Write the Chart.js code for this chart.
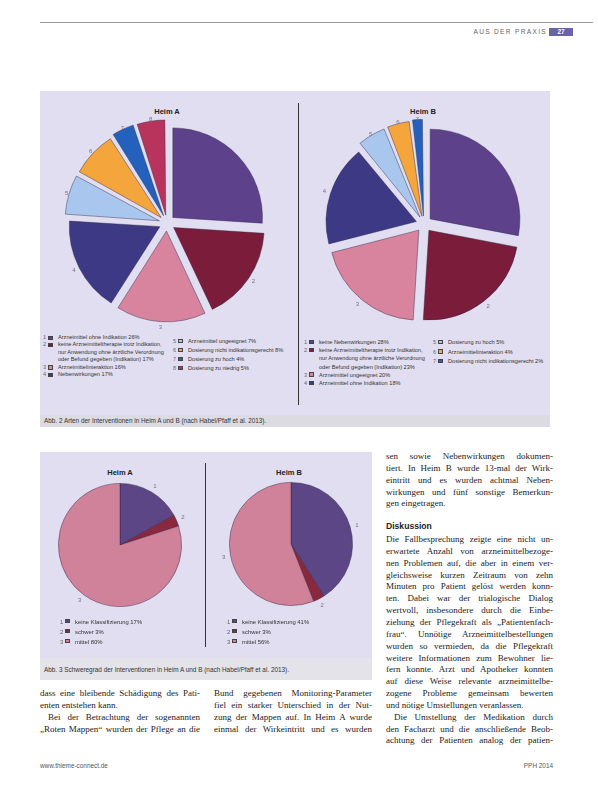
<!DOCTYPE html>
<html lang="de">
<head>
<meta charset="utf-8">
<script src="https://cdn.jsdelivr.net/npm/chart.js@4.4.1/dist/chart.umd.min.js"></script>
<style>
  body { margin: 0; background: #fff; }
  #page { position: relative; width: 598px; height: 789px; overflow: hidden; background: #fff; color: #2a2a2a; }
  .abs { position: absolute; }
  .box { position: absolute; background: #e0def0; }
  .cap { position: absolute; background: #dcdbe2; font: 6.4px/12px "Liberation Sans", sans-serif; color: #333; padding-left: 4px; box-sizing: border-box; white-space: nowrap; }
  .title { position: absolute; width: 80px; margin-left: -40px; text-align: center; font: bold 7.5px "Liberation Sans", sans-serif; color: #222; }
  .vline { position: absolute; width: 1px; background: #333; }
  canvas { position: absolute; }
  .leg { position: absolute; font: 5.6px "Liberation Sans", sans-serif; color: #333; }
  .row { position: relative; padding-left: 15px; }
  .row .n { position: absolute; left: 0; top: 0; color: #666; }
  .row .sw { position: absolute; left: 5px; width: 5px; height: 4.5px; border: 0.6px solid #444; box-sizing: border-box; }
  .ln { position: absolute; font: 9px/12px "Liberation Serif", serif; color: #222; text-align: justify; text-align-last: justify; white-space: nowrap; }
  .ln.end { text-align-last: left; }
  .head { position: absolute; font: bold 8.6px/12px "Liberation Sans", sans-serif; color: #222; }
</style>
</head>
<body>
<div id="page">
  <!-- Kopfzeile -->
  <div class="abs" style="left:40px; top:22px; width:553px; height:1px; background:#9a9a9a;"></div>
  <div class="abs" style="left:440px; top:28px; width:107px; text-align:right; font:6.6px/8px 'Liberation Sans', sans-serif; letter-spacing:1.3px; color:#666;">AUS DER PRAXIS</div>
  <div class="abs" style="left:549px; top:28px; width:24px; height:8px; background:#6a63a6; color:#fff; font:bold 6.5px/8px 'Liberation Sans', sans-serif; text-align:center;">27</div>

  <!-- Abb. 2 -->
  <div class="box" style="left:40px; top:91px; width:510px; height:324px;"></div>
  <div class="cap" style="left:40px; top:415px; width:510px; height:12px;">Abb. 2 Arten der Interventionen in Heim A und B (nach Habel/Pfaff et al. 2013).</div>
  <div class="vline" style="left:298px; top:103px; height:302px;"></div>
  <div class="title" style="left:167px; top:107px;">Heim A</div>
  <div class="title" style="left:423px; top:107px;">Heim B</div>
  <canvas id="pieA" width="220" height="220" style="left:57px; top:113px;"></canvas>
  <canvas id="pieB" width="220" height="220" style="left:314px; top:114px;"></canvas>
  <div id="legA1" class="leg" style="left:43px; top:334px; width:125px; line-height:7.4px;"></div>
  <div id="legA2" class="leg" style="left:173px; top:337px; width:120px; line-height:9px;"></div>
  <div id="legB1" class="leg" style="left:304px; top:338px; width:125px; line-height:8.2px;"></div>
  <div id="legB2" class="leg" style="left:433px; top:338px; width:115px; line-height:9.5px;"></div>

  <!-- Abb. 3 -->
  <div class="box" style="left:40px; top:452px; width:332px; height:206px;"></div>
  <div class="cap" style="left:40px; top:658px; width:332px; height:22px; line-height:24px; background:#e4e3ea;">Abb. 3 Schweregrad der Interventionen in Heim A und B (nach Habel/Pfaff et al. 2013).</div>
  <div class="vline" style="left:205px; top:463px; height:184px;"></div>
  <div class="title" style="left:120px; top:468px;">Heim A</div>
  <div class="title" style="left:289px; top:468px;">Heim B</div>
  <canvas id="sevA" width="160" height="160" style="left:40px; top:465px;"></canvas>
  <canvas id="sevB" width="160" height="160" style="left:211px; top:464px;"></canvas>
  <div id="legSA" class="leg" style="left:60px; top:617px; width:140px; line-height:10px; font-size:5.9px;"></div>
  <div id="legSB" class="leg" style="left:227px; top:617px; width:140px; line-height:10px; font-size:5.9px;"></div>

  <div id="text"></div>

  <!-- Fusszeile -->
  <div class="abs" style="left:40px; top:762px; font:6.4px/8px 'Liberation Sans', sans-serif; color:#555;">www.thieme-connect.de</div>
  <div class="abs" style="left:500px; top:762px; width:53px; text-align:right; font:6.4px/8px 'Liberation Sans', sans-serif; color:#555;">PPH 2014</div>
</div>

<script>
// Abb. 2: Arten der Interventionen (Anteile in %)
const heimALabels = [
  'Arzneimittel ohne Indikation',
  'keine Arzneimitteltherapie trotz Indikation, nur Anwendung ohne ärztliche Verordnung oder Befund gegeben (Indikation)',
  'Arzneimittelinteraktion',
  'Nebenwirkungen',
  'Arzneimittel ungeeignet',
  'Dosierung nicht indikationsgerecht',
  'Dosierung zu hoch',
  'Dosierung zu niedrig'
];
const heimAValues = [26, 17, 16, 17, 7, 8, 4, 5];

const heimBLabels = [
  'keine Nebenwirkungen',
  'keine Arzneimitteltherapie trotz Indikation, nur Anwendung ohne ärztliche Verordnung oder Befund gegeben (Indikation)',
  'Arzneimittel ungeeignet',
  'Arzneimittel ohne Indikation',
  'Dosierung zu hoch',
  'Arzneimittelinteraktion',
  'Dosierung nicht indikationsgerecht'
];
const heimBValues = [28, 23, 20, 18, 5, 4, 2];

const typeColors = ['#5e418b', '#7b1c3a', '#d8849f', '#3d3984', '#a9c7ee', '#f4a53b', '#2461bd', '#b9345d'];

// Abb. 3: Schweregrad der Interventionen (in %)
const severityLabels = ['keine Klassifizierung', 'schwer', 'mittel'];
const severityA = [17, 3, 80];
const severityB = [41, 3, 56];
const severityColors = ['#5d4685', '#8a283d', '#cf8299'];

// Nummern neben den Segmenten (Chart.js verschiebt ein Segment um offset/4)
const sliceNumbers = {
  id: 'sliceNumbers',
  afterDatasetsDraw(chart, args, opts) {
    const ctx = chart.ctx;
    const meta = chart.getDatasetMeta(0);
    const shift = (chart.data.datasets[0].offset || 0) / 4;
    ctx.save();
    ctx.font = '6px "Liberation Sans", sans-serif';
    ctx.fillStyle = '#747482';
    ctx.textAlign = 'center';
    ctx.textBaseline = 'middle';
    meta.data.forEach((arc, i) => {
      if (i < opts.first) return;
      const p = arc.getProps(['x', 'y', 'startAngle', 'endAngle', 'outerRadius']);
      const mid = (p.startAngle + p.endAngle) / 2;
      const r = p.outerRadius + shift + opts.gap;
      ctx.fillText(String(i + 1), p.x + Math.cos(mid) * r, p.y + Math.sin(mid) * r);
    });
    ctx.restore();
  }
};

function makePie(id, labels, values, colors, offset, padding, first) {
  new Chart(document.getElementById(id), {
    type: 'pie',
    data: {
      labels: labels,
      datasets: [{
        data: values,
        backgroundColor: colors.slice(0, values.length),
        borderColor: 'rgba(45,35,70,0.55)',
        borderWidth: 0.8,
        offset: offset
      }]
    },
    options: {
      responsive: false,
      animation: false,
      layout: { padding: padding },
      plugins: {
        legend: { display: false },
        tooltip: { enabled: false },
        sliceNumbers: { gap: 7, first: first }
      }
    },
    plugins: [sliceNumbers]
  });
}

// in Abb. 2 ist Segment 1 nicht beschriftet
makePie('pieA', heimALabels, heimAValues, typeColors, 32, 4, 1);
makePie('pieB', heimBLabels, heimBValues, typeColors, 32, 4, 1);
makePie('sevA', severityLabels, severityA, severityColors, 0, 18, 0);
makePie('sevB', severityLabels, severityB, severityColors, 0, 18, 0);

function buildLegend(id, labels, values, colors, from, to) {
  const el = document.getElementById(id);
  for (let i = from; i < to; i++) {
    const row = document.createElement('div');
    row.className = 'row';
    row.innerHTML = '<span class="n">' + (i + 1) + '</span>' +
      '<span class="sw" style="top:1.5px; background:' + colors[i] + '"></span>' +
      labels[i] + ' ' + values[i] + '%';
    el.appendChild(row);
  }
}

buildLegend('legA1', heimALabels, heimAValues, typeColors, 0, 4);
buildLegend('legA2', heimALabels, heimAValues, typeColors, 4, 8);
buildLegend('legB1', heimBLabels, heimBValues, typeColors, 0, 4);
buildLegend('legB2', heimBLabels, heimBValues, typeColors, 4, 7);
buildLegend('legSA', severityLabels, severityA, severityColors, 0, 3);
buildLegend('legSB', severityLabels, severityB, severityColors, 0, 3);

// Fliesstext
const textCols = [
  { x: 40, w: 160, top: 693, lines: [
    'dass eine bleibende Schädigung des Pati-',
    '|enten entstehen kann.',
    '  Bei der Betrachtung der sogenannten',
    '„Roten Mappen“ wurden der Pflege an die'
  ] },
  { x: 214, w: 158, top: 693, lines: [
    'Bund gegebenen Monitoring-Parameter',
    'fiel ein starker Unterschied in der Nut-',
    'zung der Mappen auf. In Heim A wurde',
    'einmal der Wirkeintritt und es wurden'
  ] },
  { x: 386, w: 167, top: 456, lines: [
    'sen sowie Nebenwirkungen dokumen-',
    'tiert. In Heim B wurde 13-mal der Wirk-',
    'eintritt und es wurden achtmal Neben-',
    'wirkungen und fünf sonstige Bemerkun-',
    '|gen eingetragen.'
  ] },
  { x: 386, w: 167, top: 539, lines: [
    'Die Fallbesprechung zeigte eine nicht un-',
    'erwartete Anzahl von arzneimittelbezoge-',
    'nen Problemen auf, die aber in einem ver-',
    'gleichsweise kurzen Zeitraum von zehn',
    'Minuten pro Patient gelöst werden konn-',
    'ten. Dabei war der trialogische Dialog',
    'wertvoll, insbesondere durch die Einbe-',
    'ziehung der Pflegekraft als „Patientenfach-',
    'frau“. Unnötige Arzneimittelbestellungen',
    'wurden so vermieden, da die Pflegekraft',
    'weitere Informationen zum Bewohner lie-',
    'fern konnte. Arzt und Apotheker konnten',
    'auf diese Weise relevante arzneimittelbe-',
    'zogene Probleme gemeinsam bewerten',
    '|und nötige Umstellungen veranlassen.',
    '  Die Umstellung der Medikation durch',
    'den Facharzt und die anschließende Beob-',
    'achtung der Patienten analog der patien-'
  ] }
];

const textRoot = document.getElementById('text');
textCols.forEach(col => {
  col.lines.forEach((line, i) => {
    const d = document.createElement('div');
    let t = line;
    d.className = 'ln';
    if (t.startsWith('|')) { t = t.slice(1); d.className = 'ln end'; }
    let x = col.x, w = col.w;
    if (t.startsWith('  ')) { t = t.trim(); x += 8; w -= 8; }
    d.textContent = t;
    d.style.left = x + 'px';
    d.style.width = w + 'px';
    d.style.top = (col.top - 6 + i * 11.85) + 'px';
    textRoot.appendChild(d);
  });
});

const h = document.createElement('div');
h.className = 'head';
h.textContent = 'Diskussion';
h.style.left = '386px';
h.style.top = '520px';
textRoot.appendChild(h);
</script>
</body>
</html>
